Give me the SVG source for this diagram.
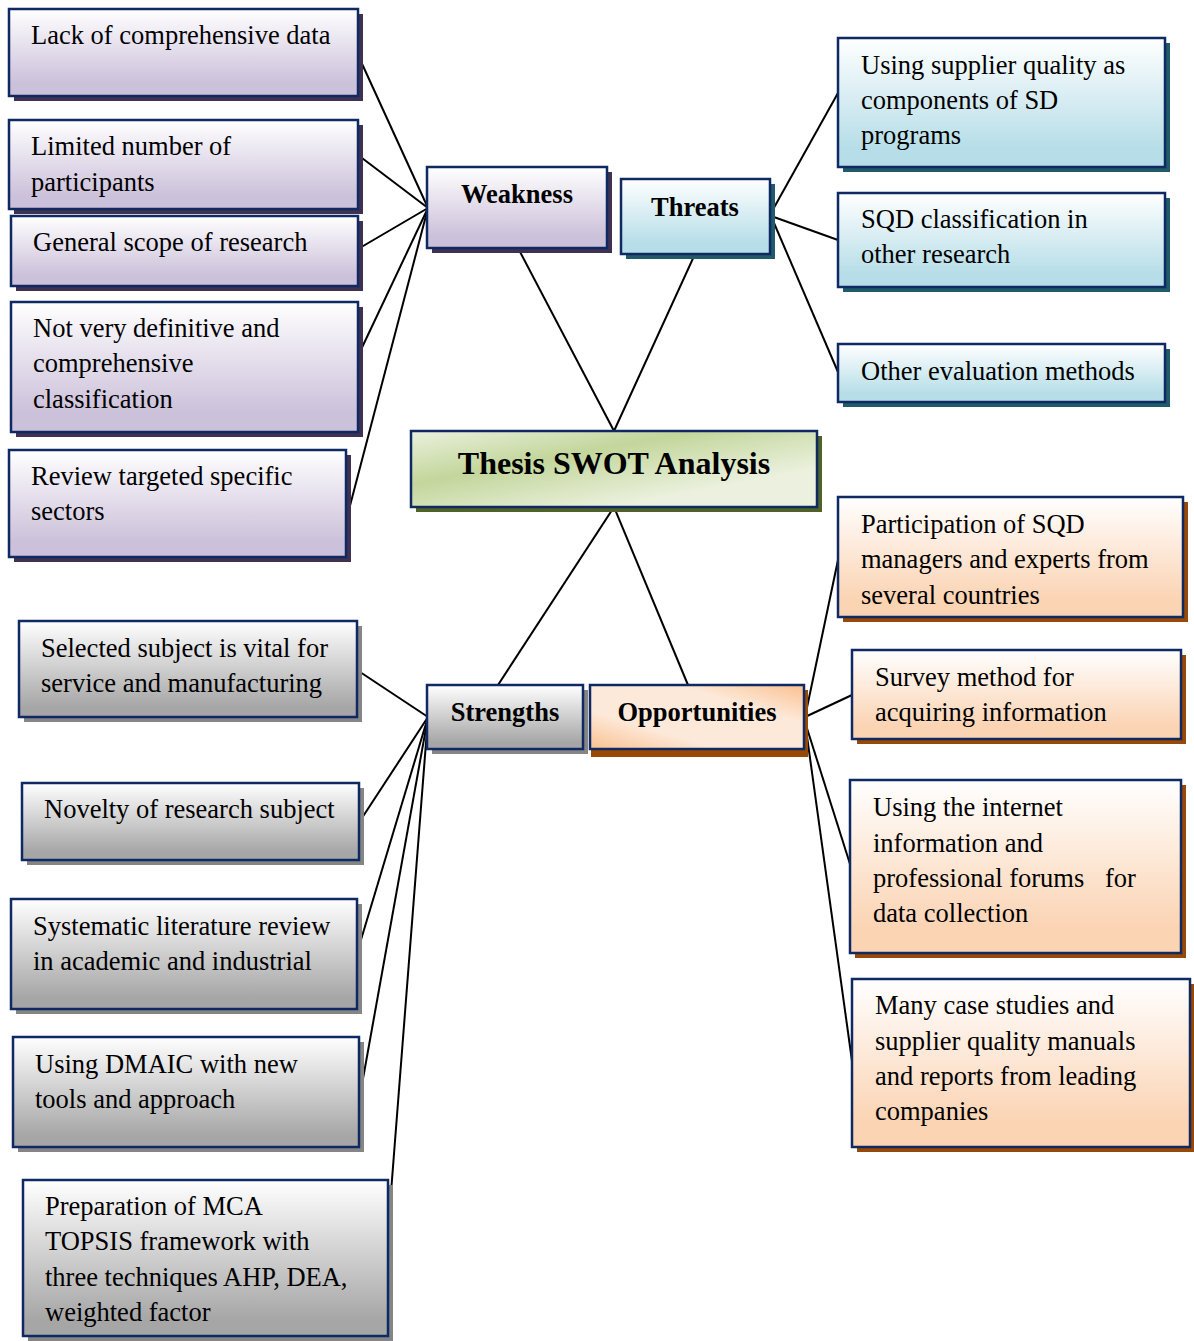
<svg xmlns="http://www.w3.org/2000/svg" width="1194" height="1341" viewBox="0 0 1194 1341">
  <defs>
    <linearGradient id="gW" x1="0" y1="0" x2="0" y2="1">
      <stop offset="0" stop-color="#ffffff"/>
      <stop offset="0.85" stop-color="#ccc1da"/>
      <stop offset="1" stop-color="#ccc1da"/>
    </linearGradient>
    <linearGradient id="gT" x1="0" y1="0" x2="0" y2="1">
      <stop offset="0" stop-color="#ffffff"/>
      <stop offset="0.85" stop-color="#b7dee8"/>
      <stop offset="1" stop-color="#b7dee8"/>
    </linearGradient>
    <linearGradient id="gS" x1="0" y1="0" x2="0" y2="1">
      <stop offset="0" stop-color="#ffffff"/>
      <stop offset="0.9" stop-color="#a6a6a6"/>
      <stop offset="1" stop-color="#a6a6a6"/>
    </linearGradient>
    <linearGradient id="gO" x1="0" y1="0" x2="0" y2="1">
      <stop offset="0" stop-color="#ffffff"/>
      <stop offset="0.85" stop-color="#fbd4b4"/>
      <stop offset="1" stop-color="#fbd4b4"/>
    </linearGradient>
    <linearGradient id="gOm" x1="0" y1="1" x2="1" y2="0">
      <stop offset="0" stop-color="#fac090"/>
      <stop offset="0.3" stop-color="#fde9d9"/>
      <stop offset="0.7" stop-color="#fde9d9"/>
      <stop offset="1" stop-color="#fac090"/>
    </linearGradient>
    <linearGradient id="gC" x1="0" y1="0" x2="1" y2="1">
      <stop offset="0" stop-color="#ebf1de"/>
      <stop offset="0.35" stop-color="#c3d69b"/>
      <stop offset="0.75" stop-color="#ebf1de"/>
      <stop offset="1" stop-color="#ebf1de"/>
    </linearGradient>
    <style>
      .box { stroke: #0f2a63; stroke-width: 2.5; }
      .w { fill: url(#gW); }
      .t { fill: url(#gT); }
      .s { fill: url(#gS); }
      .o { fill: url(#gO); }
      .shW { fill: #3f3151; }
      .shT { fill: #215a69; }
      .shS { fill: #858585; }
      .shO { fill: #984807; }
      .shC { fill: #4f6228; }
      text { font-family: "Liberation Serif", "Times New Roman", serif; fill: #000; }
      .lbl { font-size: 26.5px; }
      .hd { font-size: 26.5px; font-weight: bold; text-anchor: middle; }
      .title { font-size: 32px; font-weight: bold; text-anchor: middle; }
      .links line { stroke: #000; stroke-width: 2; }
    </style>
  </defs>

  <rect width="1194" height="1341" fill="#ffffff"/>

  <!-- connectors -->
  <g class="links">
    <line x1="358" y1="55" x2="428" y2="208"/>
    <line x1="358" y1="155" x2="428" y2="208"/>
    <line x1="358" y1="249" x2="428" y2="208"/>
    <line x1="358" y1="356" x2="428" y2="208"/>
    <line x1="346" y1="521" x2="428" y2="208"/>
    <line x1="518" y1="248" x2="614" y2="431"/>
    <line x1="695" y1="254" x2="614" y2="431"/>
    <line x1="771" y1="213" x2="843" y2="84"/>
    <line x1="771" y1="216" x2="838" y2="240"/>
    <line x1="771" y1="216" x2="838" y2="372"/>
    <line x1="614" y1="507" x2="498" y2="685"/>
    <line x1="614" y1="507" x2="688" y2="685"/>
    <line x1="428" y1="717" x2="357" y2="670"/>
    <line x1="428" y1="717" x2="360" y2="821"/>
    <line x1="428" y1="717" x2="357" y2="953"/>
    <line x1="428" y1="717" x2="359" y2="1101"/>
    <line x1="428" y1="717" x2="388" y2="1231"/>
    <line x1="805" y1="717" x2="838" y2="560"/>
    <line x1="805" y1="717" x2="852" y2="695"/>
    <line x1="805" y1="722" x2="850" y2="864"/>
    <line x1="805" y1="722" x2="852" y2="1061"/>
  </g>

  <!-- weaknesses -->
  <g id="w-data">
    <rect class="shW" x="14" y="14" width="349" height="87"/>
    <rect class="box w" x="9" y="9" width="349" height="87"/>
    <text class="lbl" x="31" y="44">Lack of comprehensive data</text>
  </g>
  <g id="w-participants">
    <rect class="shW" x="14" y="125" width="349" height="89"/>
    <rect class="box w" x="9" y="120" width="349" height="89"/>
    <text class="lbl" x="31" y="155">Limited number of</text>
    <text class="lbl" x="31" y="191">participants</text>
  </g>
  <g id="w-scope">
    <rect class="shW" x="16" y="221" width="347" height="70"/>
    <rect class="box w" x="11" y="216" width="347" height="70"/>
    <text class="lbl" x="33" y="251">General scope of research</text>
  </g>
  <g id="w-classification">
    <rect class="shW" x="16" y="307" width="347" height="130"/>
    <rect class="box w" x="11" y="302" width="347" height="130"/>
    <text class="lbl" x="33" y="337">Not very definitive and</text>
    <text class="lbl" x="33" y="372">comprehensive</text>
    <text class="lbl" x="33" y="408">classification</text>
  </g>
  <g id="w-sectors">
    <rect class="shW" x="14" y="455" width="337" height="107"/>
    <rect class="box w" x="9" y="450" width="337" height="107"/>
    <text class="lbl" x="31" y="485">Review targeted specific</text>
    <text class="lbl" x="31" y="520">sectors</text>
  </g>

  <!-- category heads -->
  <g id="weakness">
    <rect class="shW" x="432" y="172" width="180" height="81"/>
    <rect class="box w" x="427" y="167" width="180" height="81"/>
    <text class="hd" x="517" y="203">Weakness</text>
  </g>
  <g id="threats">
    <rect class="shT" x="626" y="184" width="149" height="75"/>
    <rect class="box t" x="621" y="179" width="149" height="75"/>
    <text class="hd" x="695" y="216">Threats</text>
  </g>
  <g id="thesis">
    <rect class="shC" x="416" y="436" width="406" height="76"/>
    <rect class="box" fill="url(#gC)" x="411" y="431" width="406" height="76"/>
    <text class="title" x="614" y="474">Thesis SWOT Analysis</text>
  </g>
  <g id="strengths">
    <rect class="shS" x="432" y="690" width="156" height="64"/>
    <rect class="box s" x="427" y="685" width="156" height="64"/>
    <text class="hd" x="505" y="721">Strengths</text>
  </g>
  <g id="opportunities">
    <rect class="shO" x="591" y="690" width="217" height="67"/>
    <rect class="box" fill="url(#gOm)" x="590" y="685" width="214" height="64"/>
    <text class="hd" x="697" y="721">Opportunities</text>
  </g>

  <!-- threats -->
  <g id="t-supplier">
    <rect class="shT" x="843" y="43" width="327" height="129"/>
    <rect class="box t" x="838" y="38" width="327" height="129"/>
    <text class="lbl" x="861" y="74">Using supplier quality as</text>
    <text class="lbl" x="861" y="109">components of SD</text>
    <text class="lbl" x="861" y="144">programs</text>
  </g>
  <g id="t-classification">
    <rect class="shT" x="843" y="198" width="327" height="94"/>
    <rect class="box t" x="838" y="193" width="327" height="94"/>
    <text class="lbl" x="861" y="228">SQD classification in</text>
    <text class="lbl" x="861" y="263">other research</text>
  </g>
  <g id="t-methods">
    <rect class="shT" x="843" y="349" width="327" height="58"/>
    <rect class="box t" x="838" y="344" width="327" height="58"/>
    <text class="lbl" x="861" y="380">Other evaluation methods</text>
  </g>

  <!-- opportunities -->
  <g id="o-participation">
    <rect class="shO" x="843" y="502" width="345" height="120"/>
    <rect class="box o" x="838" y="497" width="345" height="120"/>
    <text class="lbl" x="861" y="533">Participation of SQD</text>
    <text class="lbl" x="861" y="568">managers and experts from</text>
    <text class="lbl" x="861" y="604">several countries</text>
  </g>
  <g id="o-survey">
    <rect class="shO" x="857" y="655" width="329" height="89"/>
    <rect class="box o" x="852" y="650" width="329" height="89"/>
    <text class="lbl" x="875" y="686">Survey method for</text>
    <text class="lbl" x="875" y="721">acquiring information</text>
  </g>
  <g id="o-internet">
    <rect class="shO" x="855" y="785" width="331" height="173"/>
    <rect class="box o" x="850" y="780" width="331" height="173"/>
    <text class="lbl" x="873" y="816">Using the internet</text>
    <text class="lbl" x="873" y="852">information and</text>
    <text class="lbl" x="873" y="887">professional forums<tspan x="1105">for</tspan></text>
    <text class="lbl" x="873" y="922">data collection</text>
  </g>
  <g id="o-cases">
    <rect class="shO" x="857" y="984" width="338" height="168"/>
    <rect class="box o" x="852" y="979" width="338" height="168"/>
    <text class="lbl" x="875" y="1014">Many case studies and</text>
    <text class="lbl" x="875" y="1050">supplier quality manuals</text>
    <text class="lbl" x="875" y="1085">and reports from leading</text>
    <text class="lbl" x="875" y="1120">companies</text>
  </g>

  <!-- strengths -->
  <g id="s-vital">
    <rect class="shS" x="24" y="626" width="338" height="96"/>
    <rect class="box s" x="19" y="621" width="338" height="96"/>
    <text class="lbl" x="41" y="657">Selected subject is vital for</text>
    <text class="lbl" x="41" y="692">service and manufacturing</text>
  </g>
  <g id="s-novelty">
    <rect class="shS" x="27" y="788" width="337" height="77"/>
    <rect class="box s" x="22" y="783" width="337" height="77"/>
    <text class="lbl" x="44" y="818">Novelty of research subject</text>
  </g>
  <g id="s-review">
    <rect class="shS" x="16" y="904" width="346" height="110"/>
    <rect class="box s" x="11" y="899" width="346" height="110"/>
    <text class="lbl" x="33" y="935">Systematic literature review</text>
    <text class="lbl" x="33" y="970">in academic and industrial</text>
  </g>
  <g id="s-dmaic">
    <rect class="shS" x="18" y="1042" width="346" height="110"/>
    <rect class="box s" x="13" y="1037" width="346" height="110"/>
    <text class="lbl" x="35" y="1073">Using DMAIC with new</text>
    <text class="lbl" x="35" y="1108">tools and approach</text>
  </g>
  <g id="s-topsis">
    <rect class="shS" x="28" y="1185" width="365" height="156"/>
    <rect class="box s" x="23" y="1180" width="365" height="156"/>
    <text class="lbl" x="45" y="1215">Preparation of MCA</text>
    <text class="lbl" x="45" y="1250">TOPSIS framework with</text>
    <text class="lbl" x="45" y="1286">three techniques AHP, DEA,</text>
    <text class="lbl" x="45" y="1321">weighted factor</text>
  </g>
</svg>
